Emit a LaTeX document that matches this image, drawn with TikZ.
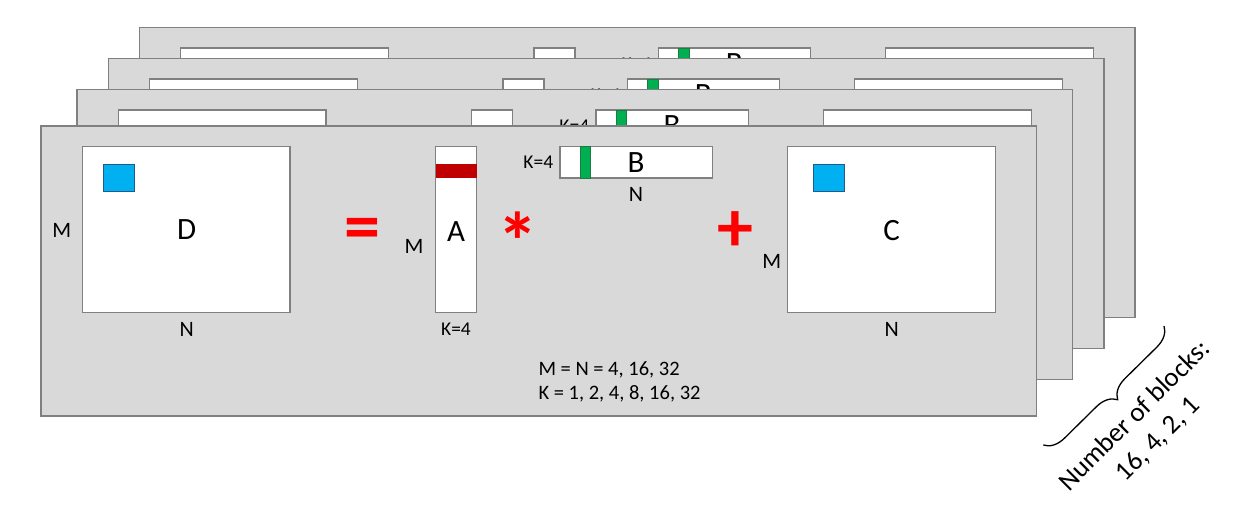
\documentclass[tikz,border=0pt]{standalone}
\usepackage{fontspec}
\setmainfont{Carlito}
\usetikzlibrary{decorations.pathreplacing}
\definecolor{panelgray}{HTML}{D9D9D9}
\definecolor{edgegray}{HTML}{808080}
\definecolor{cellblue}{HTML}{00B0F0}
\definecolor{blueedge}{HTML}{1F5C8A}
\definecolor{rowred}{HTML}{C00000}
\definecolor{colgreen}{HTML}{00B050}
\definecolor{greenedge}{HTML}{1E7A45}
\definecolor{symred}{HTML}{FF0000}
\tikzset{
  panelbox/.style={fill=panelgray, draw=edgegray, line width=1.3pt},
  matbox/.style={fill=white, draw=edgegray, line width=1.3pt},
  bluecell/.style={fill=cellblue, draw=blueedge, line width=1pt},
  redrow/.style={fill=rowred, draw=none},
  greencol/.style={fill=colgreen, draw=greenedge, line width=0.6pt},
  lbl/.style={inner sep=0pt, font=\fontsize{22}{26}\selectfont},
  sizelbl/.style={inner sep=0pt, font=\fontsize{20.5}{25}\selectfont},
  biglbl/.style={inner sep=0pt, font=\fontsize{31}{37}\selectfont},
  klbl/.style={inner sep=0pt, font=\fontsize{19.5}{23}\selectfont},
  oplbl/.style={inner sep=0pt, text=symred, font=\fontsize{72}{80}\selectfont\bfseries},
  starlbl/.style={inner sep=0pt, text=symred, font=\fontsize{82}{90}\selectfont\bfseries},
}
\newcommand\layerpanel[3]{%
\begin{scope}[shift={(#1,#2)}]
  \draw[panelbox] (41,126) rectangle (1036.7,416);
  % D
  \draw[matbox] (82.3,146.7) rectangle (290,312.7);
  \draw[bluecell] (103.3,164) rectangle (134.7,191.7);
  \node[biglbl] (#3D) at (186.7,230) {D};
  \node[lbl] (#3MD) at (61.7,230) {M};
  \node[lbl] (#3ND) at (186.7,329.3) {N};
  \node[oplbl] (#3eq) at (362,234) {=};
  % A
  \draw[matbox] (435.7,146.7) rectangle (476.7,312.7);
  \fill[redrow] (435.7,164) rectangle (476.7,178);
  \node[biglbl] (#3A) at (456,231.7) {A};
  \node[lbl] (#3MA) at (414,246) {M};
  \node[klbl] (#3KA) at (456,329.3) {K=4};
  \node[starlbl] (#3mul) at (518,241) {*};
  % B
  \draw[matbox] (560,146.7) rectangle (712.3,178);
  \draw[greencol] (580.3,146.7) rectangle (590.7,178);
  \node[biglbl] (#3B) at (636,162.7) {B};
  \node[klbl] (#3KB) at (538.3,162.7) {K=4};
  \node[lbl] (#3NB) at (636,194) {N};
  \node[oplbl] (#3plus) at (735.7,231.7) {+};
  % C
  \draw[matbox] (787.3,146.7) rectangle (995.3,312.7);
  \draw[bluecell] (813.3,164) rectangle (844.7,191.7);
  \node[biglbl] (#3C) at (891.7,230.7) {C};
  \node[lbl] (#3MC) at (771.7,261.7) {M};
  \node[lbl] (#3NC) at (891.7,329.3) {N};
  % sizes
  \node[sizelbl, anchor=base west] (#3s1) at (538.3,375) {M = N = 4, 16, 32};
  \node[sizelbl, anchor=base west] (#3s2) at (538.3,399.3) {K = 1, 2, 4, 8, 16, 32};
\end{scope}}
\begin{document}
\begin{tikzpicture}[x=1pt,y=-1pt]
  \useasboundingbox (0,0) rectangle (1253,517);
  \layerpanel{98.3}{-98.7}{p4}
  \layerpanel{67.3}{-67.7}{p3}
  \layerpanel{36}{-36.7}{p2}
  \layerpanel{0}{0}{p1}
  \coordinate (brtop) at (1164,326);
  \coordinate (brbot) at (1043.3,445);
  \draw[decorate, decoration={brace, amplitude=20pt}, line width=1.3pt] (brtop) -- (brbot);
  \node[rotate=45, align=center, inner sep=0pt, font=\fontsize{27}{33}\selectfont] (nblocks) at (1146.5,427.5) {Number of blocks:\\16, 4, 2, 1};
\end{tikzpicture}
\end{document}
